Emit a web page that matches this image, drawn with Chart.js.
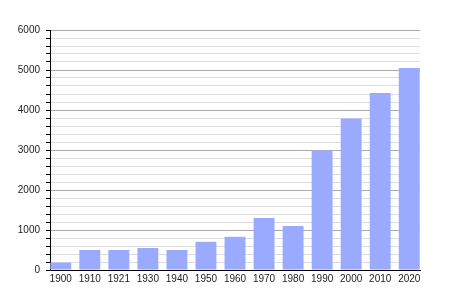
<!DOCTYPE html>
<html>
<head>
<meta charset="utf-8">
<script src="https://cdn.jsdelivr.net/npm/chart.js@4"></script>
<style>
  html, body { margin: 0; padding: 0; background: #fff; }
  #wrap { width: 450px; height: 300px; }
</style>
</head>
<body>
<div id="wrap"><canvas id="myChart"></canvas></div>
<script>
const years = ['1900', '1910', '1921', '1930', '1940', '1950', '1960', '1970', '1980', '1990', '2000', '2010', '2020'];
const population = [185, 500, 500, 550, 500, 705, 830, 1300, 1100, 2990, 3785, 4425, 5050];
const yMax = 6000;
const yMajorStep = 1000;
const yMinorStep = 200;

// bars sit on index positions 0..12 of a linear x scale so the first and last touch the axis ends
const points = years.map((y, i) => ({ x: i, y: population[i] }));

const ctx = document.getElementById('myChart').getContext('2d');
new Chart(ctx, {
  type: 'bar',
  data: {
    datasets: [{
      data: points,
      backgroundColor: '#99aaff',
      borderWidth: 0,
      categoryPercentage: 0.8,
      barPercentage: 0.9
    }]
  },
  options: {
    responsive: true,
    maintainAspectRatio: false,
    animation: false,
    layout: { padding: { left: 0, right: 30, top: 30, bottom: 0 } },
    plugins: {
      legend: { display: false },
      tooltip: { enabled: false }
    },
    scales: {
      x: {
        type: 'linear',
        offset: false,
        min: -0.37,
        max: years.length - 1 + 0.37,
        grid: { display: false, drawTicks: false, offset: false },
        border: { display: true, color: '#000', width: 1 },
        ticks: {
          stepSize: 1,
          includeBounds: false,
          autoSkip: false,
          maxRotation: 0,
          padding: 3,
          color: '#222',
          font: { family: 'Liberation Sans, Arial, sans-serif', size: 10 },
          callback: (v) => Number.isInteger(v) ? years[v] : ''
        },
        afterFit: (s) => { s.height = 30; }
      },
      y: {
        min: 0,
        max: yMax,
        grid: {
          color: (c) => (c.tick && c.tick.value % yMajorStep === 0) ? '#aaaaaa' : '#dddddd',
          tickColor: '#000',
          tickLength: 4
        },
        border: { display: true, color: '#000', width: 1 },
        ticks: {
          stepSize: yMinorStep,
          autoSkip: false,
          padding: 6,
          color: '#222',
          font: { family: 'Liberation Sans, Arial, sans-serif', size: 10 },
          callback: (v) => v % yMajorStep === 0 ? v : ''
        },
        afterFit: (s) => { s.width = 50; }
      }
    }
  }
});
</script>
</body>
</html>
